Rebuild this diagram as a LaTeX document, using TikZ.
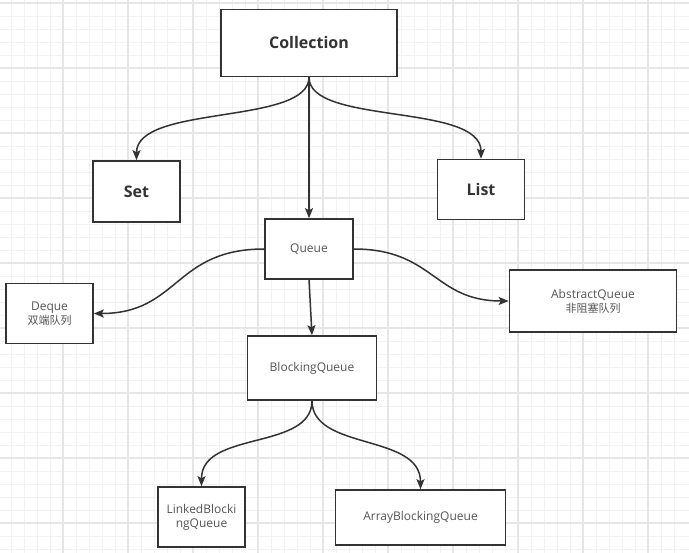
\documentclass[tikz,border=0pt]{standalone}
\usepackage{fontspec}
\setmainfont{Open Sans}
\newfontfamily\cjk{Noto Sans CJK SC}
\usetikzlibrary{arrows.meta}
\definecolor{edgecol}{HTML}{333333}
\definecolor{txtcol}{HTML}{555555}
\definecolor{gridminor}{HTML}{F2F2F2}
\definecolor{gridmajor}{HTML}{E6E6E6}
\tikzset{
  box/.style={draw=edgecol, line width=1.6pt, fill=white, inner sep=2pt, align=center, text=txtcol, font=\fontsize{12}{14}\selectfont},
  boldbox/.style={box, text=edgecol, font=\bfseries\fontsize{16}{19}\selectfont},
  conn/.style={draw=edgecol, line width=1.5pt, -{Stealth[length=10pt,width=8pt,inset=2pt]}},
  minorline/.style={draw=gridminor, line width=0.8pt},
  majorline/.style={draw=gridmajor, line width=1.2pt}
}
\begin{document}
\begin{tikzpicture}[x=1pt,y=-1pt]
\useasboundingbox (0,0) rectangle (689,553);
\fill[white] (0,0) rectangle (689,553);
\foreach \x in {11,24,...,686} \draw[minorline] (\x,0) -- (\x,553);
\foreach \y in {3,16,...,552} \draw[minorline] (0,\y) -- (689,\y);
\foreach \x in {63,128,...,686} \draw[majorline] (\x,0) -- (\x,553);
\foreach \y in {3,68,...,552} \draw[majorline] (0,\y) -- (689,\y);

\node[boldbox, minimum width=176pt, minimum height=67pt] (coll) at (309,43) {Collection};
\node[boldbox, minimum width=87pt, minimum height=61pt] (set) at (136.5,191.5) {Set};
\node[boldbox, minimum width=87pt, minimum height=60pt] (list) at (481,189.5) {List};
\node[box, minimum width=88pt, minimum height=60pt] (queue) at (309,249) {Queue};
\node[box, minimum width=87pt, minimum height=60pt] (deque) at (49.5,313.5) {Deque\\{\cjk\fontsize{11}{14}\selectfont 双端队列}};
\node[box, minimum width=167pt, minimum height=62pt] (aq) at (593,301) {AbstractQueue\\{\cjk\fontsize{11}{14}\selectfont 非阻塞队列}};
\node[box, minimum width=129pt, minimum height=64pt] (bq) at (312,368) {BlockingQueue};
\node[box, minimum width=87pt, minimum height=60pt] (lbq) at (201.5,517) {LinkedBlocki\\ngQueue};
\node[box, minimum width=170pt, minimum height=55pt] (abq) at (420.5,517.5) {ArrayBlockingQueue};

\draw[conn] (coll.south) .. controls +(0,48) and +(0,-56) .. (set.north);
\draw[conn] (coll.south) .. controls +(0,48) and +(0,-56) .. (list.north);
\draw[conn] (coll.south) -- (queue.north);
\draw[conn] (queue.west) .. controls +(-90,0) and +(85,0) .. (deque.east);
\draw[conn] (queue.east) .. controls +(80,0) and +(-75,0) .. (aq.west);
\draw[conn] (queue.south) -- (bq.north);
\draw[conn] (bq.south) .. controls +(0,50) and +(0,-56) .. (lbq.north);
\draw[conn] (bq.south) .. controls +(0,50) and +(0,-56) .. (abq.north);
\end{tikzpicture}
\end{document}
